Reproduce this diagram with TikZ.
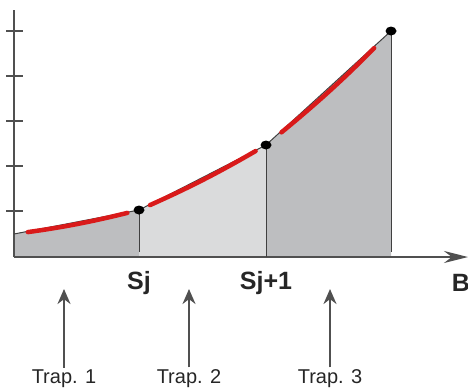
\documentclass[tikz,border=0pt]{standalone}
\usepackage{fontspec}
\setmainfont{Liberation Sans}
\usetikzlibrary{arrows.meta, positioning, shapes.geometric}

\definecolor{trapdark}{HTML}{BDBEC0}
\definecolor{traplight}{HTML}{DADBDC}
\definecolor{axisgray}{HTML}{505050}
\definecolor{curvered}{HTML}{D91A1A}

\tikzset{
    axisline/.style={line width=2pt, axisgray},
    tickline/.style={line width=1.4pt, axisgray},
    chord/.style={line width=1pt, black!75},
    redcurve/.style={line width=4.5pt, curvered, line cap=round},
    dot/.style={ellipse, fill=black, inner sep=0pt, minimum width=11pt, minimum height=9pt},
    sjlabel/.style={font=\fontsize{25}{25}\selectfont\bfseries, text=black!85},
    traplabel/.style={font=\fontsize{20}{20}\selectfont, text=black!85},
    traparrow/.style={line width=2pt, axisgray, -{Stealth[length=15pt, width=13pt]}}
}

\begin{document}
\begin{tikzpicture}[x=1pt, y=-1pt, >=Stealth]
    \useasboundingbox (0,0) rectangle (468,389);
    % points on the curve
    \coordinate (s0) at (14,234);
    \coordinate (s1) at (139,210);
    \coordinate (s2) at (266,145);
    \coordinate (s3) at (391,31);
    \coordinate (b0) at (14,257);
    \coordinate (b1) at (139,257);
    \coordinate (b2) at (266,257);
    \coordinate (b3) at (391,257);

    % trapezoids
    \fill[trapdark] (b0) -- (s0) -- (s1) -- (b1) -- cycle;
    \fill[traplight] (b1) -- (s1) -- (s2) -- (b2) -- cycle;
    \fill[trapdark] (b2) -- (s2) -- (s3) -- (b3) -- cycle;

    % axes
    \coordinate (ytop) at (14,10);
    \coordinate (xend) at (468,257);
    \draw[axisline] (b0) -- (ytop);
    \draw[axisline, -{Stealth[length=24pt, width=12pt]}] (b0) -- (xend);
    \foreach \y in {31,76,121,166,211}
        \draw[tickline] (6,\y) -- (23,\y);

    % verticals and chords
    \draw[chord] (s1) -- ([yshift=5]b1);
    \draw[chord] (s2) -- (b2);
    \draw[chord] (s3) -- ([yshift=5]b3);
    \draw[chord] (s0) -- (s1) -- (s2) -- (s3);

    % the curve
    \draw[redcurve, shorten <=14pt, shorten >=12pt] (s0) to[bend right=3] (s1);
    \draw[redcurve, shorten <=12pt, shorten >=12pt] (s1) to[bend right=3] (s2);
    \draw[redcurve, shorten <=20pt, shorten >=24pt] (s2) to[bend right=3] (s3);

    \node[dot] (d1) at (s1) {};
    \node[dot] (d2) at (s2) {};
    \node[dot] (d3) at (s3) {};

    % labels on the axis
    \node[sjlabel] (sj) at (139,283) {Sj};
    \node[sjlabel] (sjp) at (266,283) {Sj+1};
    \node[sjlabel] (bb) at (461,283) {B};

    % trapezoid labels
    \node[traplabel] (t1) at (64,379) {Trap. 1};
    \node[traplabel] (t2) at (189,379) {Trap. 2};
    \node[traplabel] (t3) at (330,379) {Trap. 3};
    \coordinate (a1) at (64,289);
    \coordinate (a2) at (189,289);
    \coordinate (a3) at (330,289);
    \draw[traparrow] ([yshift=-1]t1.north) -- (a1);
    \draw[traparrow] ([yshift=-1]t2.north) -- (a2);
    \draw[traparrow] ([yshift=-1]t3.north) -- (a3);
\end{tikzpicture}
\end{document}
